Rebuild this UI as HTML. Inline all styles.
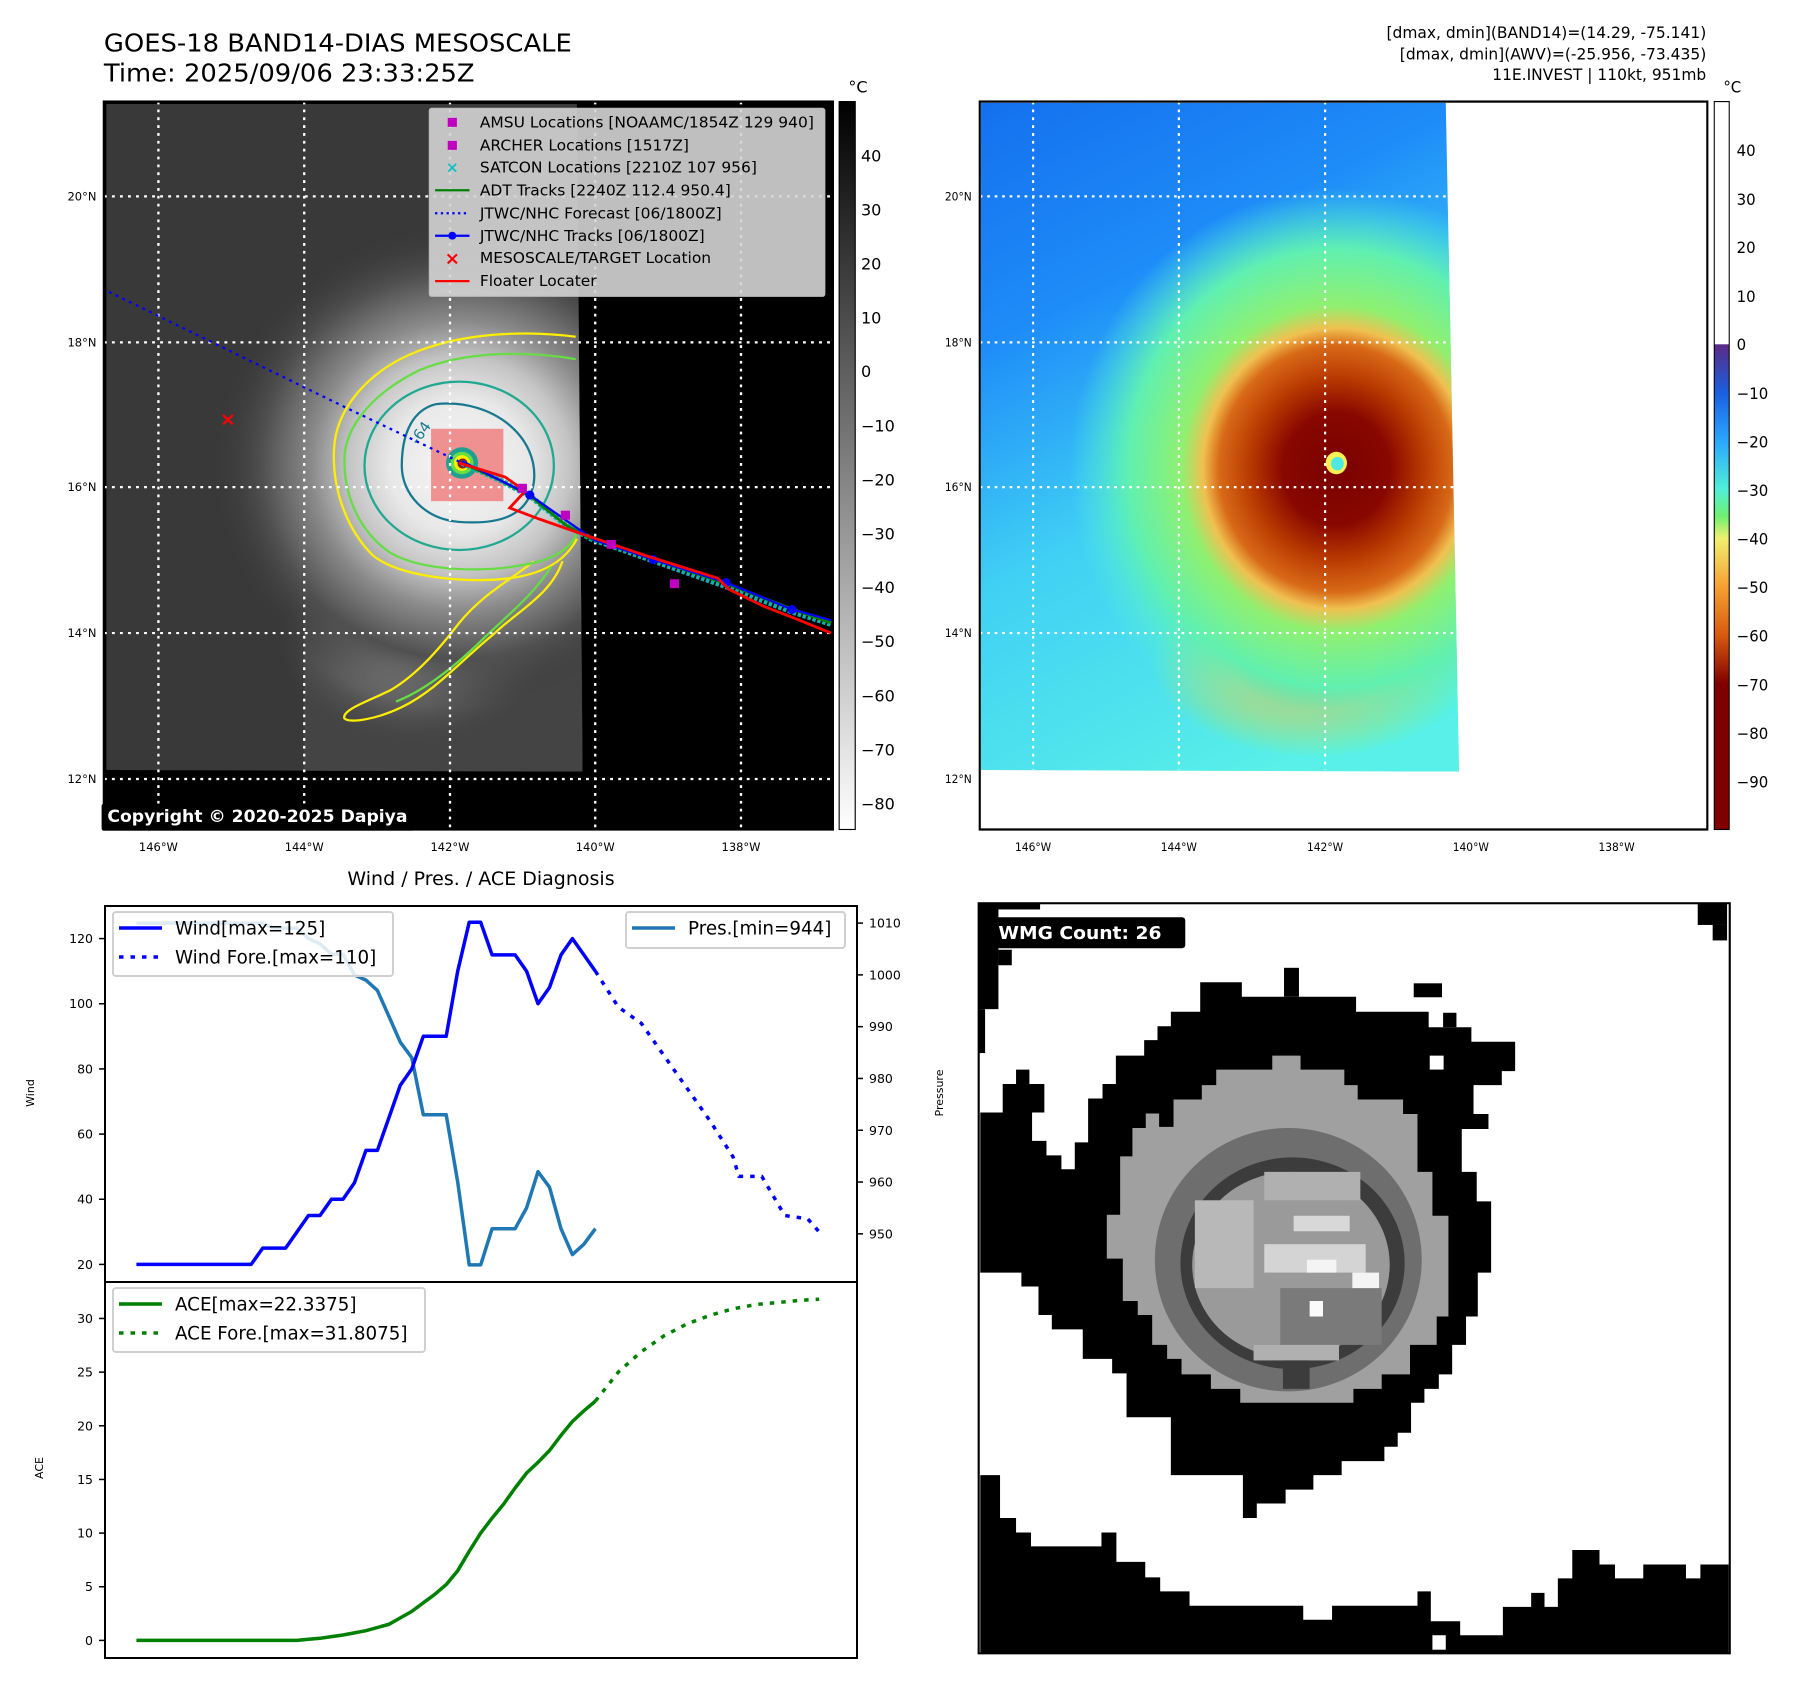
<!DOCTYPE html>
<html><head><meta charset="utf-8">
<style>
html,body{margin:0;padding:0;background:#fff;}
svg text{font-family:"DejaVu Sans","Liberation Sans",sans-serif;}
</style></head>
<body>
<svg id="root" width="1797" height="1690" viewBox="0 0 1797 1690" xmlns="http://www.w3.org/2000/svg">
<defs>
  <radialGradient id="stormGray" cx="800" cy="830" r="430" gradientUnits="userSpaceOnUse">
    <stop offset="0" stop-color="#f6f6f6"/>
    <stop offset="0.28" stop-color="#e8e8e8"/>
    <stop offset="0.45" stop-color="#c4c4c4"/>
    <stop offset="0.6" stop-color="#8a8a8a"/>
    <stop offset="0.8" stop-color="#505050"/>
    <stop offset="1" stop-color="#3a3a3a" stop-opacity="0"/>
  </radialGradient>
  <linearGradient id="cbGray" x1="0" y1="0" x2="0" y2="1">
    <stop offset="0" stop-color="#000"/><stop offset="1" stop-color="#fff"/>
  </linearGradient>
  <linearGradient id="cbColor" x1="0" y1="181" x2="0" y2="1478" gradientUnits="userSpaceOnUse">
    <stop offset="0" stop-color="#fff"/>
    <stop offset="0.333" stop-color="#fff"/>
    <stop offset="0.334" stop-color="#5b2a86"/>
    <stop offset="0.4" stop-color="#1a5fe0"/>
    <stop offset="0.467" stop-color="#2aa8ff"/>
    <stop offset="0.533" stop-color="#50f0d8"/>
    <stop offset="0.57" stop-color="#70f070"/>
    <stop offset="0.6" stop-color="#f0f070"/>
    <stop offset="0.667" stop-color="#f6a030"/>
    <stop offset="0.733" stop-color="#d85a10"/>
    <stop offset="0.8" stop-color="#800000"/>
    <stop offset="1" stop-color="#800000"/>
  </linearGradient>
  <linearGradient id="bgColor" x1="37" y1="181" x2="600" y2="1372" gradientUnits="userSpaceOnUse">
    <stop offset="0" stop-color="#1470ee"/>
    <stop offset="0.3" stop-color="#1e8cf8"/>
    <stop offset="0.6" stop-color="#40d0f4"/>
    <stop offset="1" stop-color="#58f0e8"/>
  </linearGradient>
  <radialGradient id="stormColor" cx="705" cy="835" r="500" gradientUnits="userSpaceOnUse">
    <stop offset="0" stop-color="#7a0000"/>
    <stop offset="0.2" stop-color="#880800"/>
    <stop offset="0.32" stop-color="#b83800"/>
    <stop offset="0.44" stop-color="#d86a18"/>
    <stop offset="0.5" stop-color="#f0c050"/>
    <stop offset="0.58" stop-color="#90f070"/>
    <stop offset="0.78" stop-color="#60f0b0"/>
    <stop offset="1" stop-color="#50f0e0" stop-opacity="0"/>
  </radialGradient>
  <radialGradient id="tailColor" cx="0.5" cy="0.5" r="0.5">
    <stop offset="0" stop-color="#e07a20"/>
    <stop offset="0.5" stop-color="#f0c060"/>
    <stop offset="1" stop-color="#90f070" stop-opacity="0"/>
  </radialGradient>
  <radialGradient id="tailGray" cx="0.5" cy="0.5" r="0.5">
    <stop offset="0" stop-color="#d0d0d0"/>
    <stop offset="1" stop-color="#5a5a5a" stop-opacity="0"/>
  </radialGradient>
  <clipPath id="clipGrayImg"><polygon points="185,185 1005,185 1015,1375 185,1372"/></clipPath>
  <clipPath id="clipColorImg"><polygon points="39,183 910,183 935,1375 39,1372"/></clipPath>
</defs>

<!-- ============ TOP LEFT MAP ============ -->
<svg x="0" y="0" width="900" height="880" viewBox="0 0 1568 1568" preserveAspectRatio="none" overflow="visible">
  <text x="181" y="92" font-size="45" fill="#000">GOES-18 BAND14-DIAS MESOSCALE</text>
  <text x="181" y="145" font-size="45" fill="#000">Time: 2025/09/06 23:33:25Z</text>
  <rect x="181" y="181" width="1270" height="1297" fill="#000"/>
  <g clip-path="url(#clipGrayImg)">
    <rect x="185" y="185" width="830" height="1190" fill="#393939"/>
    <rect x="530" y="700" width="485" height="675" fill="#444"/>
    <ellipse cx="720" cy="1150" rx="230" ry="170" fill="url(#tailGray)"/>
    <circle cx="800" cy="830" r="430" fill="url(#stormGray)"/>
  </g>
  <g fill="none" stroke-width="4">
    <path d="M1003,600 C930,590 820,590 730,625 C640,660 585,730 582,800 C578,880 610,950 650,990 C700,1030 820,1040 890,1030 C960,1020 990,990 1005,960" stroke="#ffee00"/>
    <path d="M980,1000 C960,1060 900,1090 860,1130 C800,1180 760,1230 700,1260 C660,1280 610,1290 600,1280 C595,1265 640,1250 680,1230 C730,1200 770,1150 800,1110 C840,1060 880,1040 930,1000" stroke="#ffee00"/>
    <path d="M1003,640 C920,625 810,625 730,660 C650,700 600,760 600,820 C600,890 630,950 680,985 C740,1020 850,1020 920,1005 C970,995 995,975 1005,950" stroke="#66dd44"/>
    <path d="M960,1010 C930,1060 880,1100 840,1140 C790,1190 740,1230 690,1250" stroke="#66dd44"/>
    <ellipse cx="800" cy="830" rx="165" ry="150" stroke="#20a890"/>
    <path d="M760,720 C860,710 940,780 930,860 C920,920 870,935 800,930 C740,925 700,880 700,830 C700,770 720,730 760,720" stroke="#187890"/>
  </g>
  <text x="705" y="790" font-size="26" fill="#187890" transform="rotate(-55 720 770)">-64</text>
  <rect x="751" y="764" width="126" height="129" fill="#f08080" fill-opacity="0.85"/>
  <g>
    <circle cx="805" cy="825" r="28" fill="#20a090"/>
    <circle cx="805" cy="825" r="20" fill="#66dd44"/>
    <circle cx="805" cy="825" r="14" fill="#ffee00"/>
    <circle cx="806" cy="826" r="9" fill="#7a2020"/>
  </g>
  <g stroke="#fff" stroke-width="4" stroke-dasharray="5 9">
    <line x1="276" y1="181" x2="276" y2="1478"/><line x1="530" y1="181" x2="530" y2="1478"/>
    <line x1="784" y1="181" x2="784" y2="1478"/><line x1="1037" y1="181" x2="1037" y2="1478"/>
    <line x1="1291" y1="181" x2="1291" y2="1478"/>
    <line x1="181" y1="350" x2="1451" y2="350"/><line x1="181" y1="610" x2="1451" y2="610"/>
    <line x1="181" y1="868" x2="1451" y2="868"/><line x1="181" y1="1128" x2="1451" y2="1128"/>
    <line x1="181" y1="1388" x2="1451" y2="1388"/>
  </g>
  <polyline points="190,520 400,625 600,725 805,825" fill="none" stroke="#0000ff" stroke-width="4" stroke-dasharray="5 8"/>
  <g>
    <polyline points="805,825 870,855 925,885 985,935 1030,960 1135,998 1265,1045 1380,1090 1448,1112" fill="none" stroke="#10b0b0" stroke-width="10" stroke-dasharray="6 3"/>
    <polyline points="805,825 870,855 925,885 985,935 1030,960 1135,995 1265,1040 1380,1085 1448,1110" fill="none" stroke="#008000" stroke-width="5"/>
    <polyline points="805,822 923,882 1035,962 1138,997 1265,1038 1380,1086 1448,1105" fill="none" stroke="#0000ff" stroke-width="4"/>
    <circle cx="923" cy="882" r="8" fill="#00f"/><circle cx="1138" cy="997" r="8" fill="#00f"/><circle cx="1265" cy="1038" r="8" fill="#00f"/><circle cx="1380" cy="1086" r="8" fill="#00f"/>
    <polyline points="800,825 880,850 915,875 888,905 940,925 1010,950 1125,990 1250,1030 1270,1050 1330,1080 1380,1100 1448,1128" fill="none" stroke="#ff0000" stroke-width="5"/>
  </g>
  <g fill="#c000c0">
    <rect x="902" y="862" width="16" height="16"/><rect x="977" y="910" width="16" height="16"/><rect x="1057" y="962" width="16" height="16"/><rect x="1167" y="1032" width="16" height="16"/>
  </g>
  <text x="397" y="758" font-size="34" fill="#ff0000" font-weight="bold" text-anchor="middle">×</text>
  <g>
    <rect x="748" y="193" width="689" height="335" fill="#d4d4d4" fill-opacity="0.9" stroke="#bbb" stroke-width="2" rx="4"/>
    <g font-size="27" fill="#000">
      <rect x="780" y="210" width="16" height="16" fill="#c000c0"/><text x="836" y="227">AMSU Locations [NOAAMC/1854Z 129 940]</text>
      <rect x="780" y="251" width="16" height="16" fill="#c000c0"/><text x="836" y="268">ARCHER Locations [1517Z]</text>
      <text x="788" y="307" text-anchor="middle" fill="#10c0c0" font-weight="bold">×</text><text x="836" y="307">SATCON Locations [2210Z 107 956]</text>
      <line x1="758" y1="339" x2="818" y2="339" stroke="#008000" stroke-width="4"/><text x="836" y="348">ADT Tracks [2240Z 112.4 950.4]</text>
      <line x1="758" y1="380" x2="818" y2="380" stroke="#0000ff" stroke-width="4" stroke-dasharray="4 6"/><text x="836" y="389">JTWC/NHC Forecast [06/1800Z]</text>
      <line x1="758" y1="420" x2="818" y2="420" stroke="#0000ff" stroke-width="4"/><circle cx="788" cy="420" r="7" fill="#00f"/><text x="836" y="429">JTWC/NHC Tracks [06/1800Z]</text>
      <text x="788" y="471" text-anchor="middle" fill="#ff0000" font-weight="bold" font-size="32">×</text><text x="836" y="469">MESOSCALE/TARGET Location</text>
      <line x1="758" y1="501" x2="818" y2="501" stroke="#ff0000" stroke-width="4"/><text x="836" y="510">Floater Locater</text>
    </g>
  </g>
  <rect x="177" y="1432" width="545" height="48" fill="#000" rx="4"/>
  <text x="187" y="1465" font-size="30" font-weight="bold" fill="#fff">Copyright © 2020-2025 Dapiya</text>
  <rect x="181" y="181" width="1270" height="1297" fill="none" stroke="#000" stroke-width="4"/>
  <g font-size="20" fill="#000" text-anchor="end">
    <text x="168" y="357">20°N</text><text x="168" y="617">18°N</text><text x="168" y="875">16°N</text><text x="168" y="1135">14°N</text><text x="168" y="1395">12°N</text>
  </g>
  <g font-size="20" fill="#000" text-anchor="middle">
    <text x="276" y="1516">146°W</text><text x="530" y="1516">144°W</text><text x="784" y="1516">142°W</text><text x="1037" y="1516">140°W</text><text x="1291" y="1516">138°W</text>
  </g>
  <rect x="1462" y="181" width="28" height="1297" fill="url(#cbGray)" stroke="#000" stroke-width="2"/>
  <g font-size="28" fill="#000">
    <text x="1478" y="165">°C</text>
    <text x="1500" y="288">40</text><text x="1500" y="384">30</text><text x="1500" y="480">20</text><text x="1500" y="576">10</text><text x="1500" y="672">0</text>
    <text x="1500" y="769">−10</text><text x="1500" y="865">−20</text><text x="1500" y="961">−30</text><text x="1500" y="1057">−40</text><text x="1500" y="1153">−50</text>
    <text x="1500" y="1250">−60</text><text x="1500" y="1346">−70</text><text x="1500" y="1442">−80</text>
  </g>
</svg>

<!-- ============ TOP RIGHT MAP ============ -->
<svg x="960" y="0" width="837" height="880" viewBox="0 0 1568 1568" preserveAspectRatio="none" overflow="visible">
  <g font-size="29" fill="#000" text-anchor="end">
    <text x="1398" y="68">[dmax, dmin](BAND14)=(14.29, -75.141)</text>
    <text x="1398" y="106">[dmax, dmin](AWV)=(-25.956, -73.435)</text>
    <text x="1398" y="143">11E.INVEST | 110kt, 951mb</text>
  </g>
  <rect x="37" y="181" width="1363" height="1297" fill="#fff"/>
  <g clip-path="url(#clipColorImg)">
    <rect x="37" y="181" width="900" height="1195" fill="url(#bgColor)"/>
    <ellipse cx="660" cy="1180" rx="300" ry="170" fill="url(#tailColor)"/>
    <circle cx="705" cy="835" r="500" fill="url(#stormColor)"/>
    <ellipse cx="705" cy="825" rx="20" ry="20" fill="#f8f050"/>
    <ellipse cx="707" cy="826" rx="12" ry="12" fill="#50e8e0"/>
  </g>
  <g stroke="#fff" stroke-width="4" stroke-dasharray="5 9">
    <line x1="137" y1="181" x2="137" y2="1372"/><line x1="410" y1="181" x2="410" y2="1372"/><line x1="684" y1="181" x2="684" y2="1372"/>
    <line x1="37" y1="350" x2="915" y2="350"/><line x1="37" y1="610" x2="920" y2="610"/><line x1="37" y1="868" x2="928" y2="868"/><line x1="37" y1="1128" x2="932" y2="1128"/>
  </g>
  <rect x="37" y="181" width="1363" height="1297" fill="none" stroke="#000" stroke-width="4"/>
  <g font-size="20" fill="#000" text-anchor="end">
    <text x="22" y="357">20°N</text><text x="22" y="617">18°N</text><text x="22" y="875">16°N</text><text x="22" y="1135">14°N</text><text x="22" y="1395">12°N</text>
  </g>
  <g font-size="20" fill="#000" text-anchor="middle">
    <text x="137" y="1516">146°W</text><text x="410" y="1516">144°W</text><text x="684" y="1516">142°W</text><text x="957" y="1516">140°W</text><text x="1230" y="1516">138°W</text>
  </g>
  <rect x="1413" y="181" width="28" height="1297" fill="url(#cbColor)" stroke="#000" stroke-width="2"/>
  <g font-size="28" fill="#000">
    <text x="1430" y="165">°C</text>
    <text x="1455" y="278">40</text><text x="1455" y="365">30</text><text x="1455" y="451">20</text><text x="1455" y="538">10</text><text x="1455" y="624">0</text>
    <text x="1455" y="711">−10</text><text x="1455" y="797">−20</text><text x="1455" y="884">−30</text><text x="1455" y="970">−40</text><text x="1455" y="1057">−50</text>
    <text x="1455" y="1143">−60</text><text x="1455" y="1230">−70</text><text x="1455" y="1317">−80</text><text x="1455" y="1403">−90</text>
  </g>
</svg>

<!-- ============ BOTTOM RIGHT WMG ============ -->
<svg x="960" y="880" width="837" height="810" viewBox="0 0 1568 1568" preserveAspectRatio="none" overflow="visible">
  <rect x="35" y="45" width="1407" height="1452" fill="#fff"/>
  <g fill="#000">
    <polygon points="395,255 450,255 450,198 528,198 528,226 742,226 742,255 878,255 878,285 958,285 958,313 1040,313 1040,370 1015,370 1015,397 962,397 962,453 990,453 990,482 940,482 940,565 968,565 968,622 995,622 995,760 970,760 970,845 948,845 948,900 922,900 922,957 897,957 897,985 870,985 870,1012 845,1012 845,1070 820,1070 820,1097 795,1097 795,1125 715,1125 715,1152 662,1152 662,1180 610,1180 610,1207 556,1207 556,1235 530,1235 530,1152 395,1152 395,1040 312,1040 312,955 285,955 285,927 230,927 230,870 172,870 172,842 147,842 147,787 115,787 115,760 38,760 38,450 80,450 80,395 105,395 105,367 130,367 130,395 158,395 158,450 135,450 135,505 162,505 162,533 190,533 190,560 215,560 215,508 240,508 240,423 267,423 267,395 292,395 292,340 345,340 345,310 370,310 370,283 395,283"/>
    <rect x="607" y="170" width="28" height="56"/><rect x="850" y="200" width="53" height="27"/><rect x="905" y="257" width="25" height="28"/>
    <rect x="35" y="45" width="37" height="205"/><rect x="35" y="45" width="115" height="12"/><rect x="72" y="135" width="25" height="30"/>
    <rect x="35" y="250" width="12" height="85"/>
    <rect x="1382" y="45" width="55" height="42"/><rect x="1410" y="87" width="27" height="30"/>
    <polygon points="38,1152 75,1152 75,1235 105,1235 105,1263 133,1263 133,1290 265,1290 265,1263 293,1263 293,1320 347,1320 347,1350 375,1350 375,1377 430,1377 430,1405 643,1405 643,1432 697,1432 697,1405 857,1405 857,1377 882,1377 882,1435 937,1435 937,1462 1017,1462 1017,1407 1070,1407 1070,1380 1095,1380 1095,1407 1120,1407 1120,1352 1147,1352 1147,1297 1198,1297 1198,1325 1227,1325 1227,1352 1280,1352 1280,1325 1360,1325 1360,1352 1387,1352 1387,1325 1440,1325 1440,1497 38,1497"/>
  </g>
  <rect x="880" y="340" width="26" height="27" fill="#fff"/>
  <rect x="885" y="1462" width="25" height="28" fill="#fff"/>
  <polygon fill="#a0a0a0" points="585,340 638,340 638,367 720,367 720,397 745,397 745,425 830,425 830,453 857,453 857,565 885,565 885,650 915,650 915,845 893,845 893,900 843,900 843,957 790,957 790,985 737,985 737,1012 525,1012 525,985 470,985 470,957 415,957 415,927 388,927 388,900 360,900 360,842 333,842 333,815 305,815 305,733 275,733 275,648 300,648 300,535 323,535 323,480 348,480 348,452 373,452 373,478 400,478 400,425 453,425 453,397 480,397 480,367 585,367"/>
  <ellipse cx="615" cy="735" rx="250" ry="255" fill="#6e6e6e"/>
  <ellipse cx="623" cy="742" rx="210" ry="205" fill="#3c3c3c"/>
  <ellipse cx="620" cy="745" rx="185" ry="180" fill="#9a9a9a"/>
  <g>
    <rect x="440" y="620" width="110" height="170" fill="#b8b8b8"/>
    <rect x="570" y="565" width="180" height="55" fill="#b0b0b0"/>
    <rect x="600" y="790" width="190" height="110" fill="#7a7a7a"/>
    <rect x="625" y="650" width="105" height="30" fill="#d8d8d8"/>
    <rect x="570" y="705" width="190" height="55" fill="#d4d4d4"/>
    <rect x="650" y="735" width="55" height="25" fill="#f4f4f4"/>
    <rect x="735" y="760" width="50" height="30" fill="#f4f4f4"/>
    <rect x="655" y="815" width="25" height="30" fill="#fafafa"/>
    <rect x="550" y="900" width="160" height="30" fill="#b0b0b0"/>
    <rect x="605" y="930" width="50" height="55" fill="#3c3c3c"/>
  </g>
  <rect x="62" y="72" width="360" height="60" rx="6" fill="#000"/>
  <text x="72" y="114" font-size="35" font-weight="bold" fill="#fff">WMG Count: 26</text>
  <rect x="35" y="45" width="1407" height="1452" fill="none" stroke="#000" stroke-width="4"/>
</svg>

<!-- ============ BOTTOM LEFT CHARTS ============ -->
<g id="chart">
  <text x="481" y="885" font-size="19" text-anchor="middle" fill="#000">Wind / Pres. / ACE Diagnosis</text>
  <rect x="105" y="906" width="752" height="376" fill="#fff" stroke="#000" stroke-width="2"/>
  <rect x="105" y="1282" width="752" height="376" fill="#fff" stroke="#000" stroke-width="2"/>
  <text transform="translate(34 1093) rotate(-90)" font-size="11" text-anchor="middle">Wind</text>
  <text transform="translate(943 1093) rotate(-90)" font-size="11" text-anchor="middle">Pressure</text>
  <text transform="translate(43 1468) rotate(-90)" font-size="11" text-anchor="middle">ACE</text>
  <g id="marks"></g>
  <g id="legends"></g>
</g>
</svg>

<script>
// ---- chart data ----
const obsIdx = [0,1,2,3,4,5,6,7,8,9,10,11,12,13,14,15,16,17,18,19,20,21,22,23,24,25,26,27,28,29,30,31,32,33,34,35,36,37,38,39,40];
const windObs = [20,20,20,20,20,20,20,20,20,20,20,25,25,25,30,35,35,40,40,45,55,55,65,75,80,90,90,90,110,125,125,115,115,115,110,100,105,115,120,115,110];
const presObs = [1010,1010,1010,1010,1010,1010,1010,1010,1010,1010,1010,1010,1009,1009,1009,1007,1006,1004,1004,1000,999,997,992,987,984,973,973,973,960,944,944,951,951,951,955,962,959,951,946,948,951];
const aceObs = [0,0,0,0,0,0,0,0,0,0,0,0,0,0,0,0.1,0.2,0.35,0.5,0.7,0.9,1.2,1.5,2.1,2.7,3.5,4.3,5.2,6.5,8.3,10,11.4,12.7,14.2,15.6,16.6,17.7,19.1,20.4,21.4,22.3];
const foreIdx = [40,42,44,46,48,50,52,52.5,54.5,56.5,58.5,59.5];
const windFore = [110,99,94,84,74,64,53,47,47,35,34,30];
const aceForeIdx = [40,42,44,46,48,50,52,54,56,58,59.5];
const aceFore = [22.3,25.0,26.9,28.4,29.5,30.3,30.9,31.3,31.5,31.7,31.8];
const windTicks = [20,40,60,80,100,120];
const presTicks = [950,960,970,980,990,1000,1010];
const aceTicks = [0,5,10,15,20,25,30];

const NS = "http://www.w3.org/2000/svg";
const X0 = 105, X1 = 857, TOP = 906, MID = 1282, BOT = 1658;
const xDom = [-2.74, 62.8];
function xs(i){ return X0 + (i - xDom[0]) / (xDom[1]-xDom[0]) * (X1-X0); }
function yWind(v){ return MID - (v - 14.6) / (130 - 14.6) * (MID-TOP); }
function yPres(v){ return MID - (v - 940.7) / (1013.3 - 940.7) * (MID-TOP); }
function yAce(v){ return BOT - (v + 1.64) / (33.4 + 1.64) * (BOT-MID); }

const marks = document.getElementById('marks');
const legends = document.getElementById('legends');
function mk(tag, attrs, parent){
  const e = document.createElementNS(NS, tag);
  for (const k in attrs) e.setAttribute(k, attrs[k]);
  (parent||marks).appendChild(e);
  return e;
}
function line(xsArr, ysArr, fx, fy, color, dash, name){
  const pts = xsArr.map((x,i)=> fx(x).toFixed(1)+','+fy(ysArr[i]).toFixed(1)).join(' ');
  const p = mk('polyline', {points: pts, fill:'none', stroke: color, 'stroke-width': 3.5, 'stroke-linejoin':'round'});
  if (dash) p.setAttribute('stroke-dasharray', '4.5 7');
  
  
}
line(obsIdx, presObs, xs, yPres, '#1f77b4', null, 'pressure-line');
line(obsIdx, windObs, xs, yWind, '#0000ff', null, 'wind-line');
line(foreIdx, windFore, xs, yWind, '#0000ff', true, 'wind-forecast-line');
line(obsIdx, aceObs, xs, yAce, '#008000', null, 'ace-line');
line(aceForeIdx, aceFore, xs, yAce, '#008000', true, 'ace-forecast-line');

function ticks(vals, fy, side, name){
  vals.forEach(v=>{
    const y = fy(v);
    const x = side === 'left' ? X0 : X1;
    const d = side === 'left' ? -6 : 6;
    const t = mk('line', {x1:x, y1:y, x2:x+d, y2:y, stroke:'#000', 'stroke-width':1.5});
    
    
    const lb = mk('text', {x: side==='left' ? X0-12 : X1+12, y: y+4.5, 'font-size':12.5, 'text-anchor': side==='left'?'end':'start', fill:'#000'});
    lb.textContent = String(v);
    
    
  });
}
ticks(windTicks, yWind, 'left', 'wind');
ticks(presTicks, yPres, 'right', 'pressure');
ticks(aceTicks, yAce, 'left', 'ace');

function legend(x, y, w, h, entries, name){
  const g = mk('g', {}, legends);
  
  
  mk('rect', {x:x, y:y, width:w, height:h, rx:3, fill:'#fff', 'fill-opacity':0.85, stroke:'#d0d0d0', 'stroke-width':2}, g);
  entries.forEach((en, i)=>{
    const cy = y + 16 + i*29;
    const l = mk('line', {x1:x+6, y1:cy, x2:x+49, y2:cy, stroke:en.c, 'stroke-width':3.5}, g);
    if (en.d) l.setAttribute('stroke-dasharray', '4.5 7');
    const t = mk('text', {x:x+62, y:cy+6.5, 'font-size':18.3, fill:'#000'}, g);
    t.textContent = en.t;
  });
}
legend(113, 912, 280, 64, [{c:'#0000ff', t:'Wind[max=125]'}, {c:'#0000ff', d:true, t:'Wind Fore.[max=110]'}], 'wind-legend');
legend(626, 912, 219, 36, [{c:'#1f77b4', t:'Pres.[min=944]'}], 'pressure-legend');
legend(113, 1288, 312, 64, [{c:'#008000', t:'ACE[max=22.3375]'}, {c:'#008000', d:true, t:'ACE Fore.[max=31.8075]'}], 'ace-legend');
</script>
</body></html>
